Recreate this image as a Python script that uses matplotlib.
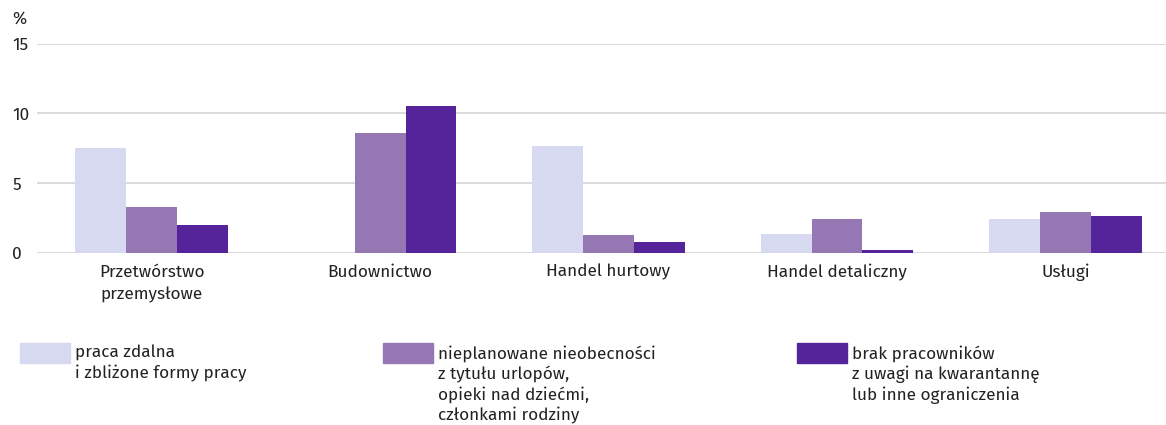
import numpy as np
import matplotlib.pyplot as plt
from matplotlib.patches import Rectangle

plt.rcParams['font.family'] = ['Fira Sans', 'Open Sans', 'DejaVu Sans']

categories = ['Przetwórstwo\nprzemysłowe', 'Budownictwo', 'Handel hurtowy',
              'Handel detaliczny', 'Usługi']
praca_zdalna = [7.5, 0.0, 7.7, 1.35, 2.4]
nieobecnosci = [3.3, 8.6, 1.3, 2.4, 2.95]
brak_pracownikow = [2.0, 10.55, 0.8, 0.2, 2.65]

series_labels = ['praca zdalna\ni zbliżone formy pracy',
                 'nieplanowane nieobecności\nz tytułu urlopów,\nopieki nad dziećmi,\nczłonkami rodziny',
                 'brak pracowników\nz uwagi na kwarantannę\nlub inne ograniczenia']
colors = ['#d6d9ef', '#9577b4', '#55239a']
text_col = '#222222'
fs = 12.4

fig = plt.figure(figsize=(11.66, 4.25), dpi=100)
ax = fig.add_axes([0.032, 0.405, 0.968, 0.492])

x = np.arange(len(categories))
w = 0.223
for i, vals in enumerate([praca_zdalna, nieobecnosci, brak_pracownikow]):
    ax.bar(x + (i - 1) * w, vals, w, color=colors[i], zorder=3)

ax.set_ylim(0, 15)
ax.set_xlim(-0.5, 4.44)
ax.set_yticks([0, 5, 10, 15])
ax.set_xticks(x)
ax.set_xticklabels(categories, fontsize=fs, color=text_col, linespacing=1.5)
ax.tick_params(axis='y', labelsize=fs, labelcolor=text_col, length=0, pad=18)
ax.tick_params(axis='x', length=0, pad=8)
for lab in ax.get_yticklabels():
    lab.set_horizontalalignment('left')
ax.yaxis.grid(True, color='#d4d4d4', linewidth=1.2, zorder=0)
for s in ax.spines.values():
    s.set_visible(False)

fig.text(12 / 1166, 1 - 19 / 425, '%', fontsize=fs, color=text_col, va='center')

# legend
leg_x = [20, 383, 797]
for i in range(3):
    fig.patches.append(Rectangle((leg_x[i] / 1166, 1 - 363 / 425), 50 / 1166, 20 / 425,
                                 transform=fig.transFigure, color=colors[i]))
    fig.text((leg_x[i] + 55) / 1166, 1 - 345 / 425, series_labels[i], fontsize=fs,
             color=text_col, va='top', linespacing=1.27)

fig.savefig('out.png', dpi=100)
